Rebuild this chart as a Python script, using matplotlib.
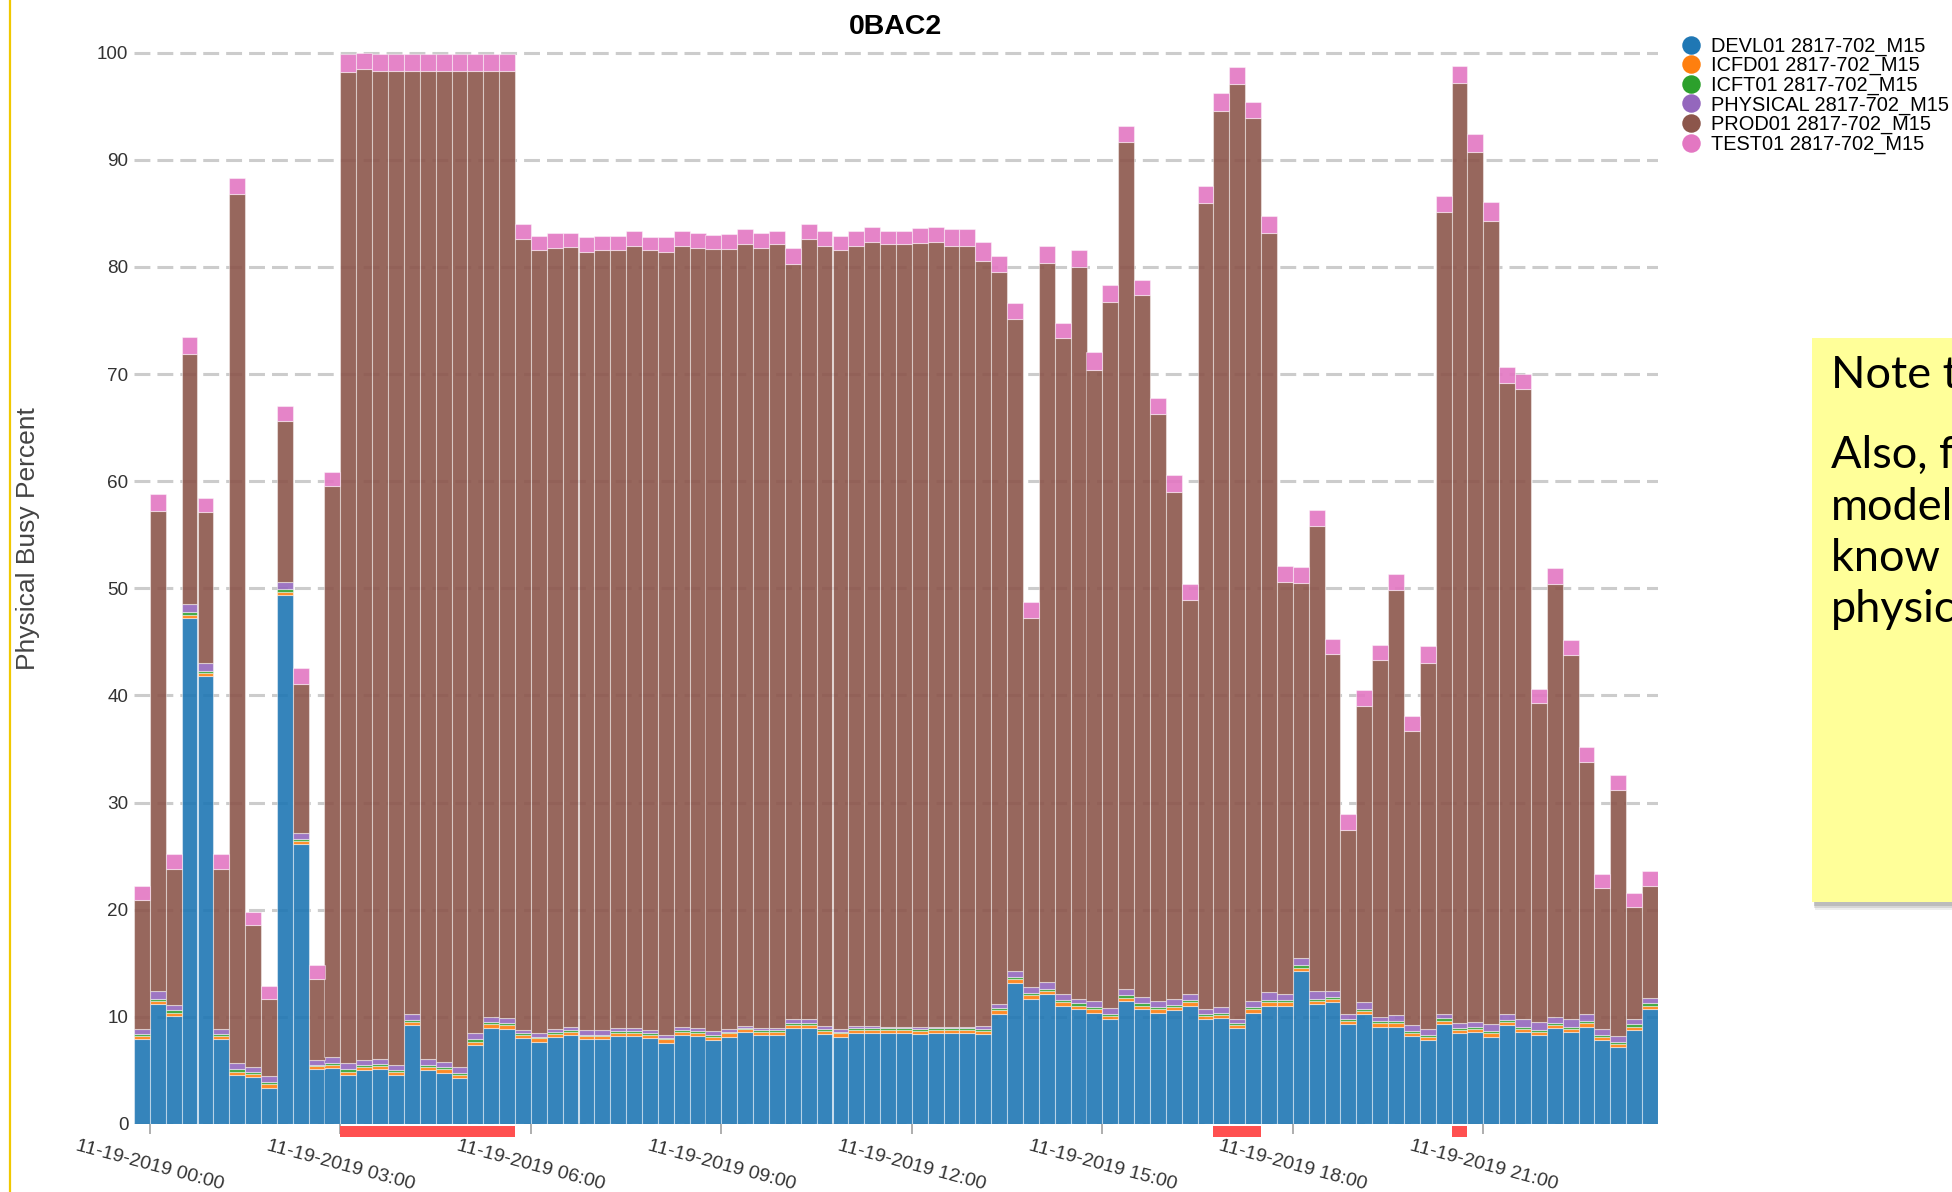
import numpy as np
import pandas as pd
import matplotlib
matplotlib.use('Agg')
from matplotlib import pyplot as plt
import matplotlib.dates as mdates
from matplotlib.colors import to_rgba
from matplotlib.patches import Rectangle
from matplotlib.lines import Line2D

plt.rcParams['font.family'] = ['Liberation Sans', 'DejaVu Sans']

# 15 minute intervals, first one starts 11-18 23:45
times = pd.date_range('2019-11-18 23:45', periods=96, freq='15min')

labels = ['DEVL01 2817-702_M15', 'ICFD01 2817-702_M15', 'ICFT01 2817-702_M15',
          'PHYSICAL 2817-702_M15', 'PROD01 2817-702_M15', 'TEST01 2817-702_M15']
colors = ['#1f77b4', '#ff7f0e', '#2ca02c', '#9467bd', '#8c564b', '#e377c2']

devl = [7.9, 11.2, 10.1, 47.2, 41.8, 7.9, 4.6, 4.4, 3.4, 49.4, 26.1, 5.1,
        5.2, 4.6, 5.0, 5.1, 4.55, 9.2, 5.0, 4.8, 4.3, 7.4, 9.0, 8.9,
        8.0, 7.7, 8.1, 8.3, 7.9, 7.9, 8.2, 8.2, 8.0, 7.6, 8.3, 8.2,
        7.85, 8.15, 8.55, 8.3, 8.3, 8.95, 8.95, 8.4, 8.15, 8.5, 8.5, 8.5,
        8.5, 8.4, 8.5, 8.5, 8.5, 8.4, 10.3, 13.2, 11.7, 12.1, 11.05, 10.75,
        10.4, 9.8, 11.5, 10.75, 10.4, 10.6, 11.05, 9.8, 9.9, 8.95, 10.4, 11.05,
        11.05, 14.3, 11.2, 11.4, 9.3, 10.25, 9.1, 9.1, 8.2, 7.85, 9.35, 8.5,
        8.6, 8.15, 9.2, 8.6, 8.3, 8.95, 8.6, 9.1, 7.85, 7.15, 8.8, 10.75]

icfd = [0.3, 0.3, 0.3, 0.35, 0.3, 0.3, 0.3, 0.3, 0.3, 0.3, 0.3, 0.3,
        0.3, 0.3, 0.3, 0.3, 0.3, 0.3, 0.3, 0.3, 0.3, 0.3, 0.3, 0.3,
        0.3, 0.3, 0.3, 0.3, 0.3, 0.3, 0.3, 0.3, 0.3, 0.3, 0.3, 0.3,
        0.3, 0.3, 0.3, 0.3, 0.3, 0.3, 0.3, 0.3, 0.3, 0.3, 0.3, 0.3,
        0.3, 0.3, 0.3, 0.3, 0.3, 0.3, 0.3, 0.3, 0.3, 0.3, 0.3, 0.3,
        0.3, 0.3, 0.3, 0.3, 0.3, 0.3, 0.3, 0.3, 0.3, 0.3, 0.3, 0.3,
        0.3, 0.3, 0.3, 0.3, 0.3, 0.3, 0.3, 0.3, 0.3, 0.3, 0.3, 0.3,
        0.3, 0.3, 0.3, 0.3, 0.3, 0.3, 0.3, 0.3, 0.3, 0.3, 0.3, 0.3]

icft = [0.2, 0.2, 0.2, 0.2, 0.2, 0.2, 0.2, 0.15, 0.2, 0.2, 0.2, 0.15,
        0.2, 0.2, 0.2, 0.2, 0.2, 0.2, 0.2, 0.2, 0.2, 0.2, 0.2, 0.2,
        0.15, 0.15, 0.15, 0.15, 0.15, 0.15, 0.15, 0.15, 0.15, 0.15, 0.15, 0.15,
        0.15, 0.15, 0.15, 0.15, 0.15, 0.15, 0.15, 0.15, 0.15, 0.15, 0.15, 0.15,
        0.15, 0.15, 0.15, 0.15, 0.15, 0.15, 0.2, 0.2, 0.2, 0.2, 0.2, 0.2,
        0.2, 0.2, 0.2, 0.2, 0.2, 0.2, 0.2, 0.2, 0.2, 0.2, 0.2, 0.2,
        0.2, 0.2, 0.2, 0.2, 0.2, 0.2, 0.2, 0.2, 0.2, 0.2, 0.2, 0.2,
        0.2, 0.2, 0.2, 0.2, 0.2, 0.2, 0.2, 0.2, 0.2, 0.2, 0.2, 0.2]

physical = [0.5, 0.7, 0.5, 0.8, 0.7, 0.5, 0.6, 0.45, 0.55, 0.7, 0.6, 0.4,
            0.6, 0.6, 0.5, 0.5, 0.5, 0.6, 0.6, 0.5, 0.5, 0.6, 0.5, 0.45,
            0.35, 0.35, 0.35, 0.35, 0.4, 0.4, 0.35, 0.3, 0.35, 0.25, 0.35, 0.35,
            0.4, 0.3, 0.15, 0.25, 0.25, 0.4, 0.4, 0.3, 0.3, 0.2, 0.2, 0.15,
            0.15, 0.25, 0.15, 0.15, 0.15, 0.3, 0.4, 0.6, 0.6, 0.7, 0.55, 0.45,
            0.6, 0.5, 0.6, 0.65, 0.6, 0.55, 0.55, 0.45, 0.5, 0.35, 0.6, 0.75,
            0.55, 0.7, 0.7, 0.55, 0.5, 0.65, 0.4, 0.6, 0.5, 0.55, 0.4, 0.4,
            0.4, 0.65, 0.55, 0.7, 0.7, 0.55, 0.7, 0.65, 0.55, 0.55, 0.5, 0.55]

prod = [12.0, 44.8, 12.7, 23.35, 14.1, 14.9, 81.1, 13.3, 7.25, 15.0, 13.9, 7.55,
        53.3, 92.5, 92.45, 92.2, 92.75, 88.0, 92.2, 92.5, 93.0, 89.8, 88.3, 88.45,
        73.8, 73.1, 72.9, 72.8, 72.65, 72.85, 72.6, 73.05, 72.8, 73.1, 72.9, 72.8,
        72.95, 72.8, 72.95, 72.8, 73.1, 70.5, 72.8, 72.85, 72.7, 72.85, 73.15, 73.0,
        73.0, 73.1, 73.2, 72.9, 72.9, 71.45, 68.3, 60.8, 34.4, 67.1, 61.3, 68.3,
        58.9, 65.9, 79.1, 65.5, 54.8, 47.35, 36.8, 75.25, 83.7, 87.3, 82.4, 70.9,
        38.5, 35.0, 43.4, 31.45, 17.1, 27.6, 33.3, 39.6, 27.5, 34.1, 74.85, 87.8,
        81.25, 75.0, 58.95, 58.8, 29.8, 40.4, 34.0, 23.55, 13.1, 23.0, 10.5, 10.45]

test = [1.3, 1.6, 1.4, 1.6, 1.3, 1.4, 1.5, 1.2, 1.15, 1.4, 1.45, 1.3,
        1.3, 1.7, 1.5, 1.6, 1.6, 1.6, 1.6, 1.6, 1.6, 1.6, 1.6, 1.6,
        1.4, 1.3, 1.4, 1.3, 1.4, 1.3, 1.3, 1.4, 1.2, 1.4, 1.4, 1.4,
        1.35, 1.4, 1.4, 1.4, 1.3, 1.5, 1.4, 1.4, 1.3, 1.4, 1.4, 1.3,
        1.3, 1.4, 1.4, 1.5, 1.5, 1.7, 1.5, 1.5, 1.5, 1.6, 1.4, 1.55,
        1.7, 1.6, 1.5, 1.4, 1.5, 1.6, 1.5, 1.6, 1.6, 1.6, 1.5, 1.6,
        1.5, 1.5, 1.5, 1.4, 1.5, 1.5, 1.45, 1.5, 1.4, 1.6, 1.5, 1.55,
        1.65, 1.8, 1.5, 1.4, 1.3, 1.5, 1.4, 1.4, 1.3, 1.4, 1.3, 1.35]

series = [devl, icfd, icft, physical, prod, test]

# intervals whose total busy is at/above this get a red flag under the axis
flag_level = 95

tick_times = pd.date_range('2019-11-19 00:00', periods=8, freq='3h')

W, H = 1952, 1192
fig = plt.figure(figsize=(W / 100, H / 100), dpi=100)
ax = fig.add_axes([134 / W, 68 / H, 1524 / W, 1082 / H])

x = mdates.date2num(times)
bw = 15 / 1440.0
bottom = np.zeros(len(x))
for vals, col in zip(series, colors):
    vals = np.array(vals)
    ax.bar(x, vals, width=bw, align='edge', bottom=bottom,
           facecolor=to_rgba(col, 0.9), edgecolor=(1, 1, 1, 0.45),
           linewidth=0.8, zorder=2)
    bottom = bottom + vals

# red flag markers just below the x axis
for k in np.where(bottom >= flag_level)[0]:
    ax.add_patch(Rectangle((x[k], -0.0019), bw, -0.0101, transform=ax.get_xaxis_transform(),
                           facecolor='#ff5050', edgecolor='none', clip_on=False, zorder=6))

ax.set_xlim(x[0], x[-1] + bw)
ax.set_ylim(0, 101)
ax.set_yticks(range(0, 101, 10))
ax.set_xticks(mdates.date2num(tick_times))
ax.set_xticklabels([t.strftime('%m-%d-%Y %H:%M') for t in tick_times])
plt.setp(ax.get_xticklabels(), rotation=-15, ha='center')

ax.yaxis.grid(True, color='#cccccc', linewidth=2.2, linestyle=(0, (5.2, 2.3)))
ax.set_axisbelow(True)
for s in ax.spines.values():
    s.set_visible(False)
ax.tick_params(axis='y', length=0, pad=4, labelsize=13.6, labelcolor='#333333')
ax.tick_params(axis='x', length=7.0, width=1.1, color='#999999', pad=3,
               labelsize=14, labelcolor='#333333')

fig.text(896 / W, 1 - 27 / H, '0BAC2', ha='center', va='center', fontsize=20.5, fontweight='bold')
fig.text(28 / W, 1 - 539 / H, 'Physical Busy Percent', rotation=90, ha='center', va='center',
         fontsize=19, color='#444444')

handles = [Line2D([], [], marker='o', ls='', markersize=12.3, markerfacecolor=c, markeredgecolor=c)
           for c in colors]
fig.legend(handles, labels, loc='upper left', bbox_to_anchor=(1681 / W, 1 - 36.5 / H),
           bbox_transform=fig.transFigure, frameon=False, fontsize=14.4, handlelength=1.0,
           handletextpad=0.5, labelspacing=0.02, borderpad=0, borderaxespad=0)

# sticky note on the slide, cut by the right edge
for off, a in [(8, 0.10), (6, 0.15), (4, 0.2)]:
    fig.patches.append(Rectangle(((1812 + off * 0.4) / W, 1 - (902 + off) / H), 0.2, (902 - 338) / H,
                                 transform=fig.transFigure, facecolor='#555555', alpha=a,
                                 edgecolor='none', zorder=1))
fig.patches.append(Rectangle((1812 / W, 1 - 902 / H), 0.2, (902 - 338) / H, transform=fig.transFigure,
                             facecolor='#ffff99', edgecolor='none', zorder=2))
note_lines = [('Note that', 388), ('Also, for', 468), ('model', 520), ('know the', 571), ('physical', 622)]
for txt, yb in note_lines:
    fig.text(1831 / W, 1 - yb / H, txt, ha='left', va='baseline', fontsize=32.5,
             family=['Lato', 'DejaVu Sans'], color='black', zorder=3)

# yellow slide border on the left
fig.add_artist(Line2D([10 / W, 10 / W], [0, 1], transform=fig.transFigure, color='#f0c800', lw=1.6))

fig.savefig('out.png', dpi=100, facecolor='white')
